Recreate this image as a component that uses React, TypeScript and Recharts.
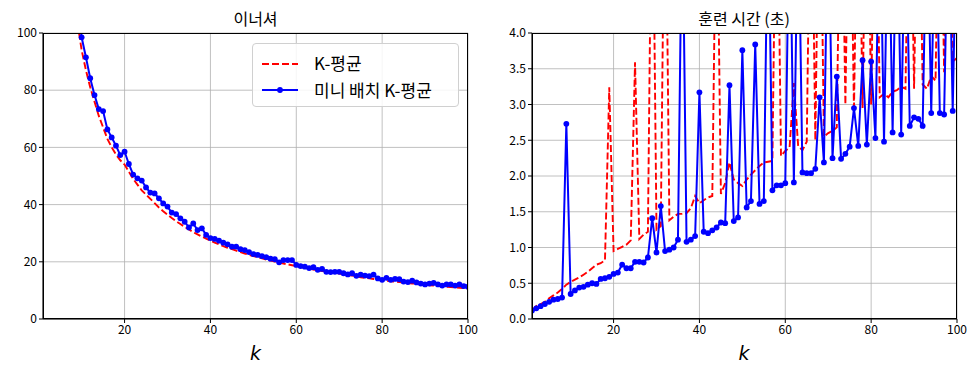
import React from 'react';
import { LineChart, Line, XAxis, YAxis, CartesianGrid } from 'recharts';

// k = 1..100
const ks = Array.from({ length: 100 }, (_, i) => i + 1);

const kmeansInertia = [
  3530, 1540, 650, 350, 260, 200, 160, 128, 104, 94,
  87, 81, 76, 71, 67, 63, 60, 57.5, 55.5, 54,
  51.5, 49, 47, 45, 43.5, 42, 40.5, 39, 37.7, 36.5,
  35.3, 34.2, 33.2, 32.2, 31.3, 30.4, 29.6, 28.8, 28.1, 27.4,
  26.7, 26.1, 25.5, 24.9, 24.4, 23.9, 23.4, 22.9, 22.4, 22.0,
  21.6, 21.2, 20.8, 20.4, 20.1, 19.7, 19.4, 19.1, 18.8, 18.5,
  18.2, 17.9, 17.6, 17.3, 17.1, 16.8, 16.6, 16.3, 16.1, 15.9,
  15.6, 15.4, 15.2, 15.0, 14.6, 14.4, 14.2, 14.0, 13.8, 13.5,
  13.4, 13.2, 13.1, 12.9, 12.7, 12.6, 12.4, 12.3, 12.1, 12.0,
  11.8, 11.7, 11.6, 11.4, 11.3, 11.2, 11.0, 10.9, 10.8, 10.7,
];

const minibatchInertia = [
  3530, 1600, 700, 380, 270, 210, 165, 135, 112, 98.5,
  91.5, 84.2, 78.3, 73.4, 72.7, 66.3, 63.5, 60.6, 57.3, 58.5,
  54.2, 50.5, 49.2, 48.4, 46, 44.2, 43.9, 42.2, 40.4, 39.3,
  37.2, 36.7, 35.2, 34, 32, 33.4, 31.1, 31.7, 29.4, 28.3,
  28, 27.4, 26.7, 26.1, 25.3, 25.3, 24.4, 24.1, 23.4, 22.7,
  22.4, 22.0, 21.6, 21.1, 20.9, 19.8, 20.6, 20.6, 20.6, 18.9,
  18.5, 18.3, 17.8, 18.1, 17.2, 17.5, 16.5, 16.4, 16.5, 16.5,
  16.0, 15.6, 16.0, 15.1, 15.5, 15.2, 15.0, 15.5, 14.2, 13.7,
  14.4, 13.7, 14.0, 13.9, 13.1, 12.9, 13.4, 12.8, 12.4, 12.1,
  12.4, 12.6, 12.1, 11.7, 12.1, 12.1, 11.7, 12.1, 11.5, 11.3,
];

const kmeansTime = [
  0.12, 0.18, 0.21, 0.24, 0.29, 0.33, 0.37, 0.42, 0.48, 0.52,
  0.55, 0.58, 0.62, 0.66, 0.71, 0.76, 0.78, 0.82, 3.24, 0.95,
  0.98, 1.01, 1.04, 1.10, 3.59, 1.12, 1.18, 1.22, 7.0, 1.25,
  1.30, 7.0, 1.38, 1.43, 1.47, 1.47, 1.48, 1.55, 1.72, 1.62,
  1.66, 1.70, 1.72, 6.5, 1.75, 1.90, 2.19, 1.95, 1.90, 1.86,
  1.95, 2.02, 2.08, 2.14, 2.19, 2.20, 2.21, 7.0, 2.28, 2.35,
  2.40, 3.30, 2.42, 2.36, 2.48, 7.0, 2.50, 7.0, 2.55, 2.60,
  2.63, 2.68, 7.0, 3.00, 7.0, 2.90, 7.0, 2.95, 7.0, 3.00,
  7.0, 3.10, 3.15, 3.10, 3.18, 3.20, 3.25, 3.22, 7.0, 3.22,
  7.0, 3.28, 3.22, 3.40, 3.33, 7.0, 3.45, 7.0, 3.60, 3.65,
];

const minibatchTime = [
  0.12, 0.15, 0.18, 0.21, 0.24, 0.27, 0.28, 0.30, 2.73, 0.35,
  0.40, 0.44, 0.45, 0.48, 0.50, 0.49, 0.56, 0.57, 0.59, 0.63,
  0.65, 0.76, 0.71, 0.71, 0.80, 0.80, 0.79, 0.86, 1.41, 0.93,
  1.58, 0.95, 0.97, 1.00, 1.11, 6.0, 1.08, 1.11, 1.16, 3.17,
  1.22, 1.20, 1.24, 1.28, 1.35, 1.34, 3.27, 1.37, 1.42, 3.76,
  1.56, 1.65, 3.84, 1.61, 1.65, 6.0, 1.80, 1.87, 1.87, 1.90,
  6.0, 1.91, 6.0, 2.05, 2.04, 2.04, 2.10, 3.10, 2.19, 6.0,
  2.25, 3.39, 2.24, 2.31, 2.41, 2.95, 2.42, 3.62, 2.44, 3.60,
  2.53, 6.0, 2.48, 6.0, 2.61, 6.0, 2.58, 6.0, 2.70, 2.82,
  2.80, 2.70, 6.0, 2.88, 6.0, 2.88, 2.86, 6.0, 2.91, 6.0,
];

const xTicks = [20, 40, 60, 80, 100];
const inertiaTicks = [0, 20, 40, 60, 80, 100];
const timeTicks = [0, 0.5, 1, 1.5, 2, 2.5, 3, 3.5, 4];

const inertiaData = ks.map((k, i) => ({ k, km: kmeansInertia[i], mb: minibatchInertia[i] }));
const timeData = ks.map((k, i) => ({ k, km: kmeansTime[i], mb: minibatchTime[i] }));

const FONT = "'Noto Sans CJK KR', 'Noto Sans', sans-serif";
const tick = { fontSize: 12, fill: '#000', fontFamily: FONT };

const Panel = ({ data, left, yDomain, yTicks, fmt }: any) => (
  <div style={{ position: 'absolute', left, top: 0 }}>
    <LineChart width={489} height={378} data={data} margin={{ top: 33, right: 21, bottom: 0, left: 0 }}>
      <CartesianGrid stroke="#b0b0b0" strokeWidth={0.8} />
      <XAxis
        dataKey="k"
        type="number"
        domain={[1, 100]}
        ticks={xTicks}
        height={59}
        tick={tick}
        tickSize={4}
        stroke="#000"
        allowDataOverflow
      />
      <YAxis
        type="number"
        domain={yDomain}
        ticks={yTicks}
        width={43}
        tick={tick}
        tickSize={4}
        tickFormatter={fmt}
        stroke="#000"
        allowDataOverflow
      />
      <Line dataKey="km" stroke="red" strokeWidth={1.9} strokeDasharray="7 3" dot={false} isAnimationActive={false} />
      <Line
        dataKey="mb"
        stroke="blue"
        strokeWidth={2}
        dot={{ r: 2.9, fill: 'blue', stroke: 'blue', strokeWidth: 0 }}
        isAnimationActive={false}
      />
    </LineChart>
    <div style={{ position: 'absolute', left: 43, top: 33, width: 425, height: 286, border: '1px solid #000', boxSizing: 'border-box', pointerEvents: 'none' }} />
  </div>
);

const App = () => (
  <div style={{ position: 'absolute', left: 0, top: 0, width: 978, height: 378, background: '#fff', fontFamily: FONT }}>
    <Panel data={inertiaData} left={0} yDomain={[0, 100]} yTicks={inertiaTicks} fmt={(v: number) => String(v)} />
    <Panel data={timeData} left={489} yDomain={[0, 4]} yTicks={timeTicks} fmt={(v: number) => v.toFixed(1)} />

    <div style={{ position: 'absolute', left: 43, width: 425, top: 6, textAlign: 'center', fontSize: 16 }}>이너셔</div>
    <div style={{ position: 'absolute', left: 532, width: 424, top: 6, textAlign: 'center', fontSize: 16 }}>훈련 시간 (초)</div>
    <div style={{ position: 'absolute', left: 43, width: 425, top: 342, textAlign: 'center', fontSize: 19, fontStyle: 'italic', fontFamily: "'DejaVu Sans', sans-serif" }}>k</div>
    <div style={{ position: 'absolute', left: 532, width: 424, top: 342, textAlign: 'center', fontSize: 19, fontStyle: 'italic', fontFamily: "'DejaVu Sans', sans-serif" }}>k</div>

    <div style={{ position: 'absolute', left: 252, top: 43, width: 207, height: 64, border: '1px solid #d0d0d0', borderRadius: 4, background: 'rgba(255,255,255,0.85)', boxSizing: 'border-box' }}>
      <svg style={{ position: 'absolute', left: 0, top: 0 }} width={60} height={64}>
        <line x1={9} y1={20} x2={45} y2={20} stroke="red" strokeWidth={1.9} strokeDasharray="7 3" />
        <line x1={9} y1={46} x2={45} y2={46} stroke="blue" strokeWidth={2} />
        <circle cx={27} cy={46} r={2.9} fill="blue" />
      </svg>
      <div style={{ position: 'absolute', left: 61, top: 7, fontSize: 17, lineHeight: '24px' }}>K-평균</div>
      <div style={{ position: 'absolute', left: 61, top: 34, fontSize: 17, lineHeight: '24px' }}>미니 배치 K-평균</div>
    </div>
  </div>
);

export default App;
